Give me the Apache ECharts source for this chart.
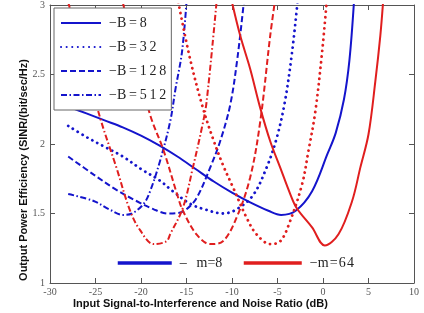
<!DOCTYPE html>
<html><head><meta charset="utf-8">
<script src="https://cdn.jsdelivr.net/npm/echarts@6/dist/echarts.min.js"></script>
<style>html,body{margin:0;padding:0;background:#fff}#c{width:424px;height:313px}</style>
</head><body><div id="c"></div>
<script>
// ---- axis ticks ----
const xTicks = [-30, -25, -20, -15, -10, -5, 0, 5, 10];
const yTicks = [1, 1.5, 2, 2.5, 3];
const xTitle = 'Input Signal-to-Interference and Noise Ratio (dB)';
const yTitle = 'Output Power Efficiency (SINR/(bit/sec/Hz)';

// ---- series values [SINR dB, efficiency] ----
// m = 8 (blue)
const m8_B8 = [[-28,2.27],[-26,2.22],[-24,2.17],[-22,2.12],[-20,2.06],[-18,1.99],[-16,1.91],[-14,1.82],[-12,1.73],[-10,1.65],[-8,1.58],[-6,1.52],[-4.6,1.49],[-3,1.52],[-1.2,1.66],[0.5,1.93],[1.4,2.08],[2.3,2.32],[2.9,2.6],[3.4,3.02]];
const m8_B32 = [[-28,2.13],[-26,2.05],[-24,1.98],[-22,1.91],[-20,1.82],[-18,1.74],[-16.5,1.66],[-14.6,1.57],[-13,1.53],[-11,1.50],[-9.5,1.53],[-7.7,1.63],[-6.2,1.83],[-5.1,2.04],[-4.2,2.3],[-3.4,2.66],[-2.8,3.02]];
const m8_B128 = [[-28,1.91],[-25.2,1.78],[-22.7,1.67],[-20.5,1.59],[-18.6,1.53],[-17,1.50],[-15.8,1.505],[-15,1.53],[-13.9,1.61],[-12.4,1.83],[-11.3,2.02],[-10.2,2.28],[-9.4,2.62],[-8.7,3.02]];
const m8_B512 = [[-28,1.64],[-25.2,1.59],[-23.5,1.53],[-22,1.49],[-21,1.50],[-19.7,1.57],[-19,1.66],[-17.9,1.88],[-16.8,2.16],[-16.2,2.4],[-15.5,2.66],[-15,3.02]];
// m = 64 (red)
const m64_B8 = [[-10,3.02],[-9.1,2.78],[-8,2.54],[-6.9,2.26],[-5.8,2.02],[-4.7,1.83],[-3.6,1.64],[-2.9,1.54],[-1.2,1.40],[0.2,1.27],[1.7,1.35],[3.2,1.59],[4.1,1.83],[5.0,2.07],[5.75,2.45],[6.3,2.78],[6.6,3.02]];
const m64_B32 = [[-15.9,3.02],[-14.6,2.61],[-13.2,2.26],[-12.1,2.04],[-11,1.85],[-9.9,1.69],[-8.4,1.47],[-7.3,1.35],[-5.8,1.28],[-4.7,1.30],[-3.7,1.43],[-2.3,1.71],[-1.6,1.95],[-0.85,2.23],[-0.1,2.66],[0.4,3.02]];
const m64_B128 = [[-22,3.02],[-20.5,2.6],[-19,2.21],[-17.5,1.95],[-15.9,1.61],[-15.4,1.52],[-13.9,1.35],[-12.4,1.28],[-11,1.30],[-9.5,1.47],[-8,1.76],[-6.9,2.16],[-5.8,2.78],[-5.3,3.02]];
const m64_B512 = [[-28,3.02],[-24.5,2.19],[-22.7,1.83],[-21.2,1.52],[-20.1,1.38],[-18.6,1.28],[-17.2,1.30],[-16.8,1.35],[-15.4,1.54],[-14.3,1.83],[-13.3,2.12],[-12.8,2.3],[-11.7,3.02]];

// ---- legend labels ----
const bLabels = ['\u2212B=8', '\u2212B=32', '\u2212B=128', '\u2212B=512'];
const mLabels = ['\u2013\u2002\u2009m=8', '\u2212m=64'];

const BLUE = '#1414cc', RED = '#e01e1e';
const styles = {
  solid: {type: 'solid', cap: 'butt'},
  dotted: {type: [0.1, 5.5], cap: 'round'},
  dashed: {type: [6, 3], cap: 'butt'},
  dashdot: {type: [6, 2.5, 1.5, 2.5], cap: 'butt'}
};
const spaced = (s, sp) => s.charAt(0) + s.slice(1).split('').join(sp);

const curves = [
  {data: m8_B8, color: BLUE, st: 'solid'},
  {data: m8_B32, color: BLUE, st: 'dotted'},
  {data: m8_B128, color: BLUE, st: 'dashed'},
  {data: m8_B512, color: BLUE, st: 'dashdot'},
  {data: m64_B8, color: RED, st: 'solid'},
  {data: m64_B32, color: RED, st: 'dotted'},
  {data: m64_B128, color: RED, st: 'dashed'},
  {data: m64_B512, color: RED, st: 'dashdot'}
];
const series = curves.map((c, i) => ({
  type: 'line', name: 'c' + i, data: c.data, smooth: 0.35, symbol: 'none',
  xAxisIndex: 0, yAxisIndex: 0,
  lineStyle: Object.assign({color: c.color, width: c.st === 'dotted' ? 2.8 : 2}, styles[c.st]),
  emphasis: {disabled: true}, z: 2
}));
const bSt = ['solid', 'dotted', 'dashed', 'dashdot'];
const bNames = bLabels.map(s => spaced(s, '\u2009'));
const mNames = [mLabels[0], spaced(mLabels[1], '\u200A')];
bNames.forEach((n, i) => series.push({type: 'line', name: n, data: [], symbol: 'none', color: BLUE,
  lineStyle: Object.assign({color: BLUE, width: bSt[i] === 'dotted' ? 2.8 : 2}, styles[bSt[i]])}));
series.push({type: 'line', name: mNames[0], data: [], symbol: 'none', color: BLUE, lineStyle: {color: BLUE, width: 3.5}});
series.push({type: 'line', name: mNames[1], data: [], symbol: 'none', color: RED, lineStyle: {color: RED, width: 3.5}});

const axisCol = '#555';
const lblFont = {color: '#555', fontFamily: 'Liberation Serif', fontSize: 10};
const legText = {color: '#222', fontFamily: 'Liberation Serif', fontSize: 14};
const baseAxisLine = {onZero: false, lineStyle: {color: axisCol, width: 1}};
const tick = {show: true, inside: true, length: 5, lineStyle: {color: axisCol}};

const option = {
  animation: false,
  backgroundColor: '#fff',
  grid: {left: 50, right: 10, top: 3, bottom: 30, containLabel: false},
  xAxis: [
    {type: 'value', min: xTicks[0], max: xTicks[xTicks.length - 1], interval: xTicks[1] - xTicks[0], position: 'bottom',
     axisLine: baseAxisLine, axisTick: tick, axisLabel: Object.assign({margin: 4}, lblFont), splitLine: {show: false}},
    {type: 'value', min: xTicks[0], max: xTicks[xTicks.length - 1], interval: xTicks[1] - xTicks[0], position: 'top',
     axisLine: baseAxisLine, axisTick: tick, axisLabel: {show: false}, splitLine: {show: false}}
  ],
  yAxis: [
    {type: 'value', min: yTicks[0], max: yTicks[yTicks.length - 1], interval: yTicks[1] - yTicks[0], position: 'left',
     axisLine: Object.assign({show: true}, baseAxisLine), axisTick: tick, axisLabel: Object.assign({margin: 5}, lblFont), splitLine: {show: false}},
    {type: 'value', min: yTicks[0], max: yTicks[yTicks.length - 1], interval: yTicks[1] - yTicks[0], position: 'right',
     axisLine: Object.assign({show: true}, baseAxisLine), axisTick: tick, axisLabel: {show: false}, splitLine: {show: false}}
  ],
  legend: [
    {data: bNames, orient: 'vertical', left: 54, top: 8, padding: [8, 5, 8, 6],
     itemWidth: 40, itemHeight: 14, itemGap: 10, selectedMode: false,
     itemStyle: {opacity: 0},
     borderColor: '#666', borderWidth: 1, backgroundColor: '#fff',
     textStyle: Object.assign({padding: [0, 0, 0, 3]}, legText), z: 10},
    {data: [mNames[0]], orient: 'horizontal', left: 116, top: 256, padding: 0, itemWidth: 54, itemHeight: 14,
     selectedMode: false, itemStyle: {opacity: 0}, lineStyle: {width: 3.5}, textStyle: Object.assign({padding: [0, 0, 0, 3]}, legText)},
    {data: [mNames[1]], orient: 'horizontal', left: 242, top: 256, padding: 0, itemWidth: 58, itemHeight: 14,
     selectedMode: false, itemStyle: {opacity: 0}, lineStyle: {width: 3.5}, textStyle: Object.assign({padding: [0, 0, 0, 3]}, legText)}
  ],
  graphic: [
    {type: 'text', left: 73, top: 298, style: {text: xTitle, fill: '#111', font: 'bold 11px "Liberation Sans", Arial, sans-serif'}},
    {type: 'text', x: 24, y: 170, rotation: Math.PI / 2,
     style: {text: yTitle, fill: '#111', font: 'bold 11px "Liberation Sans", Arial, sans-serif', textAlign: 'center', textVerticalAlign: 'middle'}}
  ],
  series: series
};
const chart = echarts.init(document.getElementById('c'), null, {renderer: 'canvas'});
chart.setOption(option);
</script></body></html>
